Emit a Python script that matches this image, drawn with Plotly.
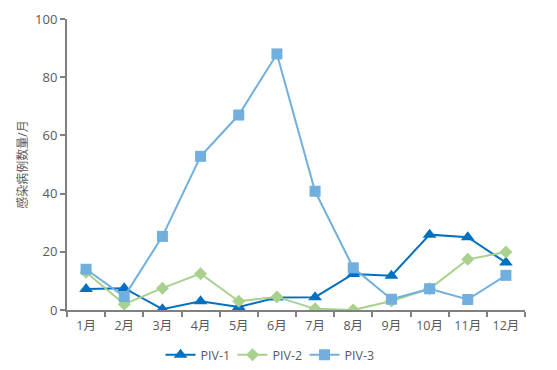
import plotly.graph_objects as go

months = ["1月", "2月", "3月", "4月", "5月", "6月", "7月", "8月", "9月", "10月", "11月", "12月"]
piv1 = [7.2, 7.5, 0.3, 3.0, 1.0, 4.3, 4.4, 12.4, 11.8, 25.9, 25.0, 16.3]
piv2 = [13.0, 2.0, 7.5, 12.5, 3.0, 4.5, 0.4, 0.0, 3.1, 7.3, 17.4, 19.9]
piv3 = [14.0, 4.6, 25.3, 52.8, 67.0, 88.0, 40.8, 14.5, 3.7, 7.3, 3.6, 11.9]

font_family = "Open Sans, Noto Sans CJK SC, sans-serif"

fig = go.Figure()
fig.add_trace(go.Scatter(x=months, y=piv1, name="PIV-1", mode="lines+markers",
                         line=dict(color="#0070C0", width=2),
                         marker=dict(symbol="triangle-up", size=12, color="#0070C0")))
fig.add_trace(go.Scatter(x=months, y=piv2, name="PIV-2", mode="lines+markers",
                         line=dict(color="#A9D18E", width=2),
                         marker=dict(symbol="diamond", size=10, color="#A9D18E")))
fig.add_trace(go.Scatter(x=months, y=piv3, name="PIV-3", mode="lines+markers",
                         line=dict(color="#71B0DE", width=2),
                         marker=dict(symbol="square", size=11, color="#71B0DE")))

fig.update_layout(
    width=549, height=362,
    margin=dict(l=59, r=32, t=11, b=60, autoexpand=False),
    paper_bgcolor="white", plot_bgcolor="white",
    font=dict(family=font_family, size=12, color="#595959"),
    showlegend=True,
    legend=dict(orientation="h", x=0.44, xanchor="center", y=-0.155, yanchor="middle",
                font=dict(size=12.5, color="#595959"), entrywidth=27, entrywidthmode="pixels",
                tracegroupgap=0),
)
fig.update_xaxes(
    showline=True, linecolor="#808080", linewidth=2,
    ticks="outside", tickson="boundaries", ticklen=5, tickcolor="#808080", tickwidth=2,
    showgrid=False, zeroline=False, range=[-0.5, 11.5], automargin=False,
    ticklabelstandoff=3, tickfont=dict(size=12.5),
)
fig.update_yaxes(
    range=[0, 100], dtick=20,
    showline=True, linecolor="#808080", linewidth=2,
    ticks="outside", ticklen=5, tickcolor="#808080", tickwidth=2,
    showgrid=False, zeroline=False, automargin=False, tickfont=dict(size=13),
    title=dict(text="感染病例数量/月", font=dict(size=12, color="#595959"), standoff=5),
)

fig.write_html("out.html")
